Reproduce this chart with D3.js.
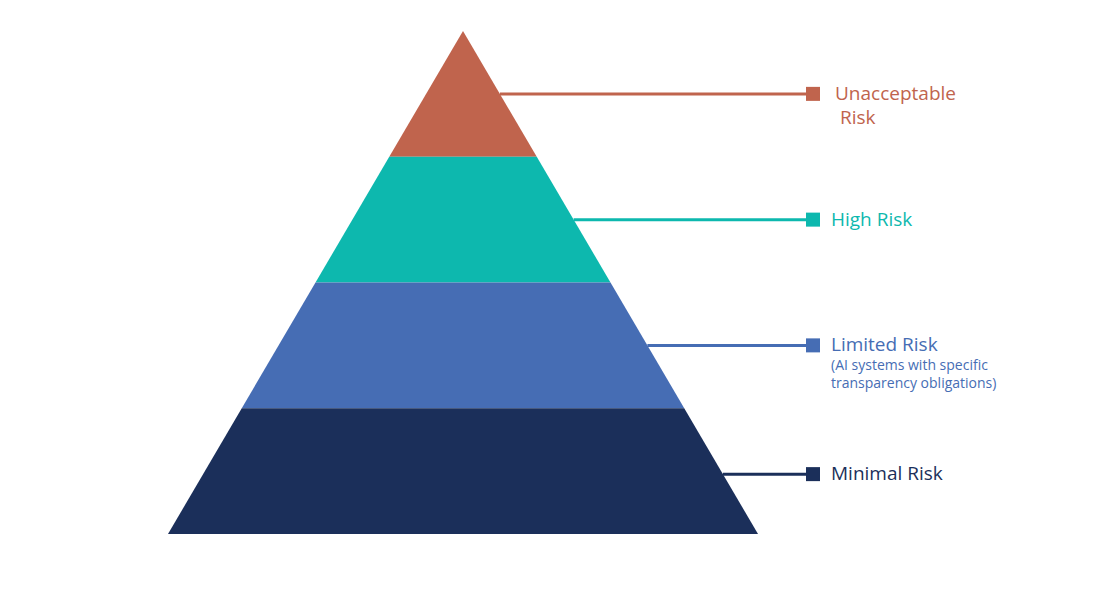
<!DOCTYPE html>
<html><head><meta charset="utf-8">
<script src="https://cdn.jsdelivr.net/npm/d3@7"></script>
<style>body{margin:0;background:#fff}</style></head>
<body><svg id="c" width="1120" height="605"></svg>
<script>
const categories = ["Unacceptable Risk","High Risk","Limited Risk","Minimal Risk"];
const labelLines = [["Unacceptable"," Risk"],["High Risk"],["Limited Risk"],["Minimal Risk"]];
const subLines = [[],[],["(AI systems with specific","transparency obligations)"],[]];
const colors = ["#C0644D","#0DB8AE","#466DB4","#1B2F5A"];

const svg = d3.select("#c");
const y = d3.scaleLinear().domain([0, categories.length]).range([31, 534]);
const half = d3.scaleLinear().domain([0, categories.length]).range([0, 295]);
const cx = 463;
const xL = v => cx - half(v), xR = v => cx + half(v);

categories.forEach((c, i) => {
  const pts = [[xL(i), y(i)], [xR(i), y(i)], [xR(i+1), y(i+1)], [xL(i+1), y(i+1)]];
  svg.append("path").attr("d", d3.line()(pts) + "Z").attr("fill", colors[i]);
  const my = y(i + 0.5) + (i === 3 ? 3 : 0);
  const ex = cx + half(categories.length) * (my - y(0)) / (y(categories.length) - y(0));
  svg.append("line").attr("x1", ex).attr("x2", 812).attr("y1", my).attr("y2", my)
    .attr("stroke", colors[i]).attr("stroke-width", 3);
  svg.append("rect").attr("x", 806).attr("y", my - 7).attr("width", 14).attr("height", 14).attr("fill", colors[i]);
  const tx = i === 0 ? 835 : 831;
  labelLines[i].forEach((t, j) => {
    svg.append("text").attr("x", tx).attr("y", my + 6 + j * 24).text(t)
      .attr("fill", colors[i]).attr("font-family", "Open Sans").attr("font-size", 19)
      .attr("font-weight", 500).attr("xml:space","preserve").style("white-space","pre");
  });
  subLines[i].forEach((t, j) => {
    svg.append("text").attr("x", 831).attr("y", my + 25 + j * 18).text(t)
      .attr("fill", colors[i]).attr("font-family", "Open Sans").attr("font-size", 14);
  });
});
</script></body></html>
